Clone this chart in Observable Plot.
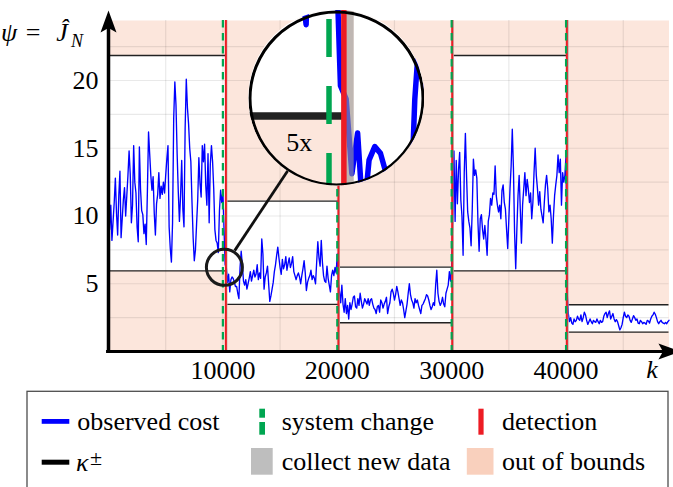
<!DOCTYPE html>
<html><head><meta charset="utf-8">
<script src="https://cdn.jsdelivr.net/npm/d3@7"></script>
<script src="https://cdn.jsdelivr.net/npm/@observablehq/plot@0.6"></script>
<style>
body{margin:0;background:#fff;}
#wrap{position:relative;width:673px;height:487px;overflow:hidden;font-family:"Liberation Serif",serif;background:#fff;}
#inset{position:absolute;left:248.3px;top:9.5px;width:176px;height:176px;clip-path:circle(88px at 88px 88px);}
#legend{position:absolute;left:0;top:390px;}
</style></head><body><div id="wrap"></div>
<script>
// ---------------- data ----------------
const step = 100;               // sampling step of the observed cost (k)
const seg1Start = 0;
const seg1 = [12.8,9.0,10.8,8.2,9.6,11.0,12.8,10.2,8.6,11.5,
  13.3,8.4,9.8,11.2,12.1,10.0,11.5,13.0,14.8,13.1,
  9.5,10.8,15.2,12.5,11.7,9.2,8.1,15.1,12.0,10.4,
  10.1,8.7,9.4,7.9,11.8,16.2,14.6,13.0,11.9,12.9,
  10.2,8.6,10.9,11.6,13.2,11.3,12.2,11.6,12.5,11.7,
  13.0,14.2,15.2,9.2,7.6,6.6,9.5,17.2,19.9,18.2,
  14.6,11.8,9.6,11.5,14.1,10.5,9.2,16.5,20.1,18.0,
  16.8,15.0,14.0,11.0,8.4,6.7,7.5,9.4,11.2,14.3,
  12.4,11.4,15.2,14.0,15.3,12.3,10.8,14.6,9.5,13.8,
  15.2,14.0,12.0,9.0,8.2,8.0,7.3,10.4,11.9,11.0,
  11.8,9.0,6.4];
const seg2Start = 10300;
const seg2 = [6.2,5.1,5.7,4.4,5.3,5.5,5.4,5.1,4.8,4.8,
  4.3,3.9,6.2,7.4,6.4,5.2,4.9,5.3,4.6,5.0,
  5.4,5.9,5.2,5.6,6.0,5.5,5.7,6.4,5.3,5.8,
  5.4,8.3,7.2,4.6,5.5,5.8,6.3,5.0,3.7,4.1,
  4.6,5.1,5.9,6.4,7.1,7.7,6.9,6.2,5.7,6.8,
  6.1,6.4,7.0,6.0,6.5,6.9,6.2,6.5,7.0,5.9,
  5.6,5.3,5.6,5.8,5.5,5.0,5.6,6.1,6.7,5.8,
  4.5,5.1,5.4,5.6,6.0,5.3,5.6,5.4,5.0,6.6,
  8.1,6.9,6.3,8.2,6.6,5.6,5.2,5.1,6.3,5.4,
  4.9,4.4,5.6,6.0,5.6,6.2,5.8,7.2,5.0,4.4,
  3.6];
const seg3Start = 20400;
const seg3 = [4.9,3.5,2.9,3.9,2.8,3.4,2.4,3.6,3.1,3.5,
  4.0,4.1,3.3,3.2,3.9,3.4,4.3,3.7,3.2,3.5,
  3.9,3.7,3.5,3.9,3.4,3.8,3.9,3.5,3.2,3.1,
  2.8,3.3,3.4,2.9,3.8,3.6,3.2,3.5,3.7,4.0,
  2.8,3.3,3.6,4.4,4.6,4.3,3.8,4.2,4.8,4.4,
  3.9,3.4,3.8,3.6,3.1,2.5,3.0,3.5,4.3,5.0,
  4.2,3.8,3.6,3.2,3.9,3.6,3.8,3.4,3.1,2.8,
  3.4,3.5,3.7,3.9,4.2,4.1,3.8,3.4,3.1,3.3,
  3.6,3.4,4.9,6.0,4.3,3.7,3.4,3.6,4.0,3.5,
  3.3,4.3,4.6,4.9,5.9,5.2,6.1];
const seg4Start = 30100;
const seg4 = [10.5,14.8,9.6,
  14.1,10.9,13.4,14.7,11.2,10.0,7.1,13.2,16.1,13.0,
  10.3,9.6,9.1,7.8,10.5,14.2,13.0,13.4,12.8,9.5,
  7.4,9.8,10.1,9.0,8.3,9.3,8.3,7.1,9.6,10.1,
  11.3,10.8,11.7,11.6,13.7,11.5,10.8,10.3,10.8,9.8,
  11.9,12.3,11.0,10.5,9.0,7.6,9.8,12.0,13.7,16.4,
  13.5,8.8,6.1,9.0,11.5,13.0,10.5,8.0,10.8,12.0,
  13.2,11.5,12.7,12.0,11.0,11.7,9.8,11.0,13.2,15.0,
  13.0,12.0,10.8,11.8,10.5,10.0,9.5,11.0,12.3,13.0,
  12.0,10.3,10.8,9.8,8.0,10.0,11.5,12.3,13.0,14.5,
  13.2,14.2,10.8,13.2,12.5,13.0,14.5];
const seg5Start = 40100;
const seg5 = [4.3,2.8,2.2,2.5,
  2.1,2.0,2.4,2.2,2.3,2.6,2.4,2.3,2.7,2.2,
  2.5,2.9,2.7,2.3,2.0,2.2,2.4,2.2,2.05,2.3,
  2.2,2.15,2.4,2.2,2.05,2.3,2.15,2.2,2.6,2.8,
  2.9,2.5,2.8,3.0,2.4,2.6,2.8,2.4,2.2,2.35,
  2.2,1.9,1.6,1.75,2.0,2.5,2.9,2.6,2.5,2.7,
  2.6,2.3,2.15,2.4,2.65,2.5,2.3,2.4,2.1,2.05,
  2.3,2.2,2.05,2.15,2.1,2.0,2.3,2.25,2.1,2.4,
  2.6,2.7,2.9,2.75,2.5,2.2,2.05,2.2,2.3,2.15,
  2.1,2.05,2.15,2.05,2.2,2.3];

// bounds kappa-/kappa+ per monitoring segment
const segStart = [0, 10440, 20280, 30230, 40280];
const segEnd   = [10260, 20100, 30050, 40070, 49000];
const kappaHi  = [21.85, 11.1, 6.23, 21.85, 3.45];
const kappaLo  = [5.95, 3.48, 2.12, 5.95, 1.43];
// events
const changes    = [10000, 20000, 30000, 40000];
const detections = [10260, 20100, 30050, 40070];
const collectEnd = [10440, 20280, 30230, 40280];
// ticks and grid
const xTicks = [10000, 20000, 30000, 40000];
const yTicks = [5, 10, 15, 20];
const gridK = [5000, 10000, 15000, 20000, 25000, 30000, 35000, 40000, 45000];
const gridV = [2.5, 5, 7.5, 10, 12.5, 15, 17.5, 20, 22.5];
// magnifier
const zoomCenter = {k: 10131, v: 6.21};
const zoomFactor = 5;

// ---------------- build tables ----------------
const series = [[seg1Start, seg1], [seg2Start, seg2], [seg3Start, seg3], [seg4Start, seg4], [seg5Start, seg5]];
const cost = series.flatMap(([s, vals]) => vals.map((v, i) => ({k: s + i * step, v})));
const bounds = segStart.map((s, i) => ({start: s, end: segEnd[i], lo: kappaLo[i], hi: kappaHi[i]}));
const collect = detections.map((d, i) => ({start: d, end: collectEnd[i]}));

// ---------------- layout & style ----------------
const W = 673, H = 390, mL = 108, mR = 4.5, mT = 20, mB = 39;
const kMax = 49000, vMax = 24.43;
const FONT = "Liberation Serif, DejaVu Serif, serif";
const PINK = "#fce6dc", BLUE = "#0000ff", RED = "#ed1c24", GREEN = "#00a651", GRAY = "#9a9a9a";
const yArrowTip = 25.17, kArrowTip = 50000;

const arrowUp = {draw(c) { c.moveTo(0, 0); c.lineTo(8, 22); c.lineTo(0, 17.5); c.lineTo(-8, 22); c.closePath(); }};
const arrowRight = {draw(c) { c.moveTo(0, 0); c.lineTo(-22, -8); c.lineTo(-17.5, 0); c.lineTo(-22, 8); c.closePath(); }};

const main = Plot.plot({
  width: W, height: H,
  marginLeft: mL, marginRight: mR, marginTop: mT, marginBottom: mB,
  x: {domain: [0, kMax], ticks: xTicks, tickFormat: "d", tickSize: 0, tickPadding: 9, label: null},
  y: {domain: [0, vMax], ticks: yTicks, tickSize: 0, tickPadding: 10, label: null},
  style: {fontFamily: FONT, fontSize: "26px", color: "black", background: "white", overflow: "visible"},
  marks: [
    Plot.frame({fill: PINK, stroke: "none"}),
    Plot.rect(bounds, {x1: "start", x2: "end", y1: "lo", y2: "hi", fill: "white"}),
    Plot.ruleX(gridK, {stroke: "#000", strokeOpacity: 0.085, strokeWidth: 1.2}),
    Plot.ruleY(gridV, {stroke: "#000", strokeOpacity: 0.085, strokeWidth: 1.2}),
    Plot.line(cost, {x: "k", y: "v", stroke: BLUE, strokeWidth: 1.35}),
    Plot.rect(collect, {x1: "start", x2: "end", fill: GRAY, fillOpacity: 0.62}),
    Plot.ruleY(bounds, {y: "lo", x1: "start", x2: "end", stroke: "#222", strokeWidth: 1.4}),
    Plot.ruleY(bounds, {y: "hi", x1: "start", x2: "end", stroke: "#222", strokeWidth: 1.4}),
    Plot.ruleX(detections, {stroke: RED, strokeWidth: 2}),
    Plot.ruleX(changes, {stroke: GREEN, strokeWidth: 2.2, strokeDasharray: "7.5,5.5"}),
    Plot.ruleX([0], {y1: -0.12, y2: 24.6, stroke: "black", strokeWidth: 3.5}),
    Plot.ruleY([0], {x1: -170, x2: 49400, stroke: "black", strokeWidth: 3}),
    Plot.dot([{k: 0, v: yArrowTip}], {x: "k", y: "v", symbol: arrowUp, fill: "black", stroke: "none"}),
    Plot.dot([{k: kArrowTip, v: 0}], {x: "k", y: "v", symbol: arrowRight, fill: "black", stroke: "none"}),
    Plot.dot([zoomCenter], {x: "k", y: "v", r: 18, stroke: "#1a1a1a", strokeWidth: 3, fill: "none"})
  ]
});

const wrap = document.getElementById("wrap");
wrap.appendChild(main);

// pixel helpers matching the main scales
const sx = d3.scaleLinear([0, kMax], [mL, W - mR]);
const sy = d3.scaleLinear([0, vMax], [H - mB, mT]);
const svg = d3.select(main);

// magnifier geometry
const insetR = 88;
const bigC = {x: 248.3 + insetR, y: 9.5 + insetR};
const smallC = {x: sx(zoomCenter.k), y: sy(zoomCenter.v)};
const dx = bigC.x - smallC.x, dy = bigC.y - smallC.y, len = Math.hypot(dx, dy);
const ux = dx / len, uy = dy / len;
svg.append("line")
  .attr("x1", smallC.x + ux * 19.5).attr("y1", smallC.y + uy * 19.5)
  .attr("x2", bigC.x - ux * 86).attr("y2", bigC.y - uy * 86)
  .attr("stroke", "#111").attr("stroke-width", 2.8);

// axis labels
const lab = svg.append("text").attr("x", 9).attr("y", 41).attr("font-size", 26).attr("font-family", FONT).attr("fill", "black");
lab.append("tspan").attr("font-style", "italic").text("ψ");
lab.append("tspan").attr("x", 33).text("=");
lab.append("tspan").attr("x", 62).attr("font-style", "italic").text("Ĵ");
lab.append("tspan").attr("x", 77).attr("dy", 6).attr("font-size", 18).attr("font-style", "italic").text("N");
svg.append("text").attr("x", 652).attr("y", 378).attr("font-size", 26).attr("font-family", FONT)
  .attr("font-style", "italic").attr("fill", "black").text("k");

// ---------------- inset (5x magnifier) ----------------
const dk = insetR / (zoomFactor * (W - mL - mR) / kMax);
const dv = insetR / (zoomFactor * (H - mB - mT) / vMax);
const inset = Plot.plot({
  width: 2 * insetR, height: 2 * insetR, margin: 0,
  x: {domain: [zoomCenter.k - dk, zoomCenter.k + dk], axis: null},
  y: {domain: [zoomCenter.v - dv, zoomCenter.v + dv], axis: null},
  style: {fontFamily: FONT, fontSize: "26px", color: "black", background: "white"},
  marks: [
    Plot.frame({fill: PINK, stroke: "none"}),
    Plot.rect(bounds, {x1: "start", x2: "end", y1: "lo", y2: "hi", fill: "white"}),
    Plot.line(cost, {x: "k", y: "v", stroke: BLUE, strokeWidth: 5.5}),
    Plot.rect(collect, {x1: "start", x2: "end", fill: GRAY, fillOpacity: 0.62}),
    Plot.ruleY(bounds, {y: "lo", x1: "start", x2: "end", stroke: "#222", strokeWidth: 7.5}),
    Plot.ruleX(detections, {stroke: RED, strokeWidth: 5.5}),
    Plot.ruleX(changes, {stroke: GREEN, strokeWidth: 5.5, strokeDasharray: "38,29", strokeDashoffset: 58}),
    Plot.text(["5x"], {text: d => d, frameAnchor: "top-left", dx: 37.7, dy: 140.5, textAnchor: "start", lineAnchor: "bottom", fontSize: 26, fill: "black"}),
    Plot.dot([0], {frameAnchor: "middle", r: insetR - 1.5, stroke: "black", strokeWidth: 3, fill: "none"})
  ]
});
const insetDiv = document.createElement("div");
insetDiv.id = "inset";
insetDiv.appendChild(inset);
wrap.appendChild(insetDiv);

// ---------------- legend ----------------
const leg = d3.create("svg").attr("id", "legend").attr("width", W).attr("height", 97)
  .attr("font-family", FONT).attr("font-size", 26);
leg.append("rect").attr("x", 27).attr("y", 1.3).attr("width", 641).attr("height", 110)
  .attr("fill", "none").attr("stroke", "#4d4d4d").attr("stroke-width", 1.3);
leg.append("rect").attr("x", 41.7).attr("y", 29).attr("width", 27.6).attr("height", 4.8).attr("fill", BLUE);
leg.append("text").attr("x", 77.3).attr("y", 39.7).text("observed cost");
leg.append("rect").attr("x", 259.3).attr("y", 18.7).attr("width", 5.7).attr("height", 9).attr("fill", GREEN);
leg.append("rect").attr("x", 259.3).attr("y", 32).attr("width", 5.7).attr("height", 12.7).attr("fill", GREEN);
leg.append("text").attr("x", 281.7).attr("y", 39.7).text("system change");
leg.append("rect").attr("x", 478.4).attr("y", 18.7).attr("width", 5.2).attr("height", 26).attr("fill", RED);
leg.append("text").attr("x", 502).attr("y", 39.7).text("detection");
leg.append("rect").attr("x", 41.7).attr("y", 69.7).attr("width", 27.6).attr("height", 5).attr("fill", "black");
const kap = leg.append("text").attr("x", 76).attr("y", 81);
kap.append("tspan").attr("font-style", "italic").text("κ");
kap.append("tspan").attr("x", 90).attr("y", 75).attr("font-size", 22).text("±");
leg.append("rect").attr("x", 251).attr("y", 58).attr("width", 21.7).attr("height", 26.7).attr("fill", "#bebebe");
leg.append("text").attr("x", 281.7).attr("y", 80).text("collect new data");
leg.append("rect").attr("x", 466.8).attr("y", 58).attr("width", 26.7).attr("height", 26.7).attr("fill", "#f9d0bd");
leg.append("text").attr("x", 502).attr("y", 80).text("out of bounds");
wrap.appendChild(leg.node());
</script></body></html>
